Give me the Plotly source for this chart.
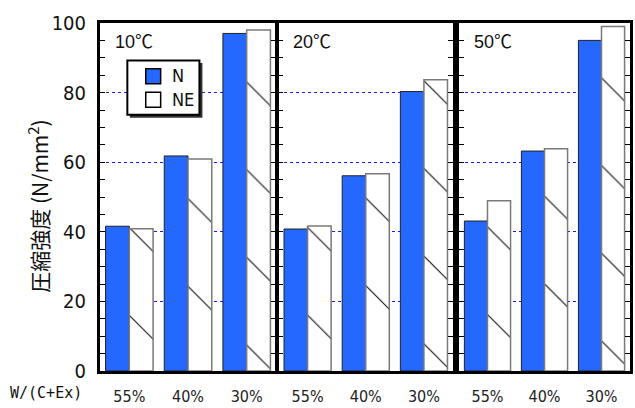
import plotly.graph_objects as go
from plotly.subplots import make_subplots

# Compressive strength by water ratio, curing temperature and mix
temperatures = ["10℃", "20℃", "50℃"]
ratios = ["55%", "40%", "30%"]
strength_N = [
    [41.6, 61.8, 97.0],
    [40.8, 56.1, 80.3],
    [43.1, 63.2, 95.0],
]
strength_NE = [
    [40.9, 60.9, 98.0],
    [41.7, 56.7, 83.7],
    [48.9, 63.9, 99.0],
]
y_ticks = [0, 20, 40, 60, 80, 100]
series_names = ["N", "NE"]

W, H = 635, 408
L, R, T, B = 100, 2, 23, 36
PW, PH = W - L - R, H - T - B

BLUE = "#2468FF"
NUM_FONT = "DejaVu Sans Condensed, Liberation Sans Narrow, sans-serif"
JP_FONT = "Noto Sans CJK JP, sans-serif"


def px(x):
    return (x - L) / PW


def py(y):
    return (H - B - y) / PH


fig = make_subplots(rows=1, cols=3, shared_yaxes=False, horizontal_spacing=0.0)

domains = [[0.0, px(277)], [px(279.5), px(455)], [px(461), 1.0]]

for i in range(3):
    fig.add_trace(
        go.Bar(
            x=ratios, y=strength_N[i], name=series_names[0],
            marker=dict(color=BLUE, line=dict(color="#222222", width=1)),
            showlegend=False,
        ),
        row=1, col=i + 1,
    )
    fig.add_trace(
        go.Bar(
            x=ratios, y=strength_NE[i], name=series_names[1],
            marker=dict(
                color="white",
                line=dict(color="#7a7a7a", width=1.5),
                pattern=dict(shape="\\", fgcolor="#111111", bgcolor="white",
                             fgopacity=1, size=62, solidity=0.018),
            ),
            showlegend=False,
        ),
        row=1, col=i + 1,
    )

    ax = "" if i == 0 else str(i + 1)
    fig.update_layout(**{
        f"xaxis{ax}": dict(
            domain=domains[i], showline=True, mirror=True, linewidth=3,
            linecolor="black", ticks="", showgrid=False,
            tickfont=dict(family=NUM_FONT, size=16, color="#222"),
            ticklabelstandoff=9,
        ),
        f"yaxis{ax}": dict(
            range=[0, 100], tickvals=y_ticks, showline=True, mirror="allticks",
            linewidth=3, linecolor="black", ticks="inside", ticklen=5,
            tickcolor="black", tickwidth=1,
            minor=dict(dtick=5, ticks="inside", ticklen=5, tickcolor="black",
                       tickwidth=1, showgrid=False),
            showgrid=True, gridcolor="#1a1aff", gridwidth=1, griddash="dot",
            showticklabels=(i == 0), zeroline=False,
            tickfont=dict(family=NUM_FONT, size=20, color="#111"),
            ticklabelstandoff=7,
        ),
    })

    fig.add_annotation(
        text=temperatures[i], xref=f"x{ax} domain", yref=f"y{ax} domain",
        x=0, y=1, xanchor="left", yanchor="middle", xshift=13, yshift=-19,
        showarrow=False, font=dict(family="Liberation Sans, " + JP_FONT, size=18, color="#111"),
    )

# legend drawn as a framed box with drop shadow
shapes = [
    dict(type="rect", xref="paper", yref="paper", x0=px(130), x1=px(203),
         y0=py(118), y1=py(63), fillcolor="#333", line=dict(width=0)),
    dict(type="rect", xref="paper", yref="paper", x0=px(127.5), x1=px(200),
         y0=py(115), y1=py(60.5), fillcolor="white", line=dict(color="black", width=2)),
    dict(type="rect", xref="paper", yref="paper", x0=px(146), x1=px(161),
         y0=py(84), y1=py(69), fillcolor=BLUE, line=dict(color="black", width=1.5)),
    dict(type="rect", xref="paper", yref="paper", x0=px(146), x1=px(161),
         y0=py(107.5), y1=py(92.5), fillcolor="white", line=dict(color="black", width=1.5)),
]
for s in shapes:
    fig.add_shape(**s)

for name, yc in zip(series_names, [76, 100]):
    fig.add_annotation(
        text=name, xref="paper", yref="paper", x=px(170), y=py(yc),
        xanchor="left", yanchor="middle", showarrow=False,
        font=dict(family=NUM_FONT, size=18, color="#111"),
    )

fig.add_annotation(
    text="圧縮強度 (N/mm<sup>2</sup>)", xref="paper", yref="paper",
    x=px(38), y=py(207), textangle=-90, xanchor="center", yanchor="middle",
    showarrow=False, font=dict(family=JP_FONT, size=21, color="#111"),
)
fig.add_annotation(
    text="W/(C+Ex)", xref="paper", yref="paper", x=px(7), y=py(394),
    xanchor="left", yanchor="middle", showarrow=False,
    font=dict(family="DejaVu Sans Mono, monospace", size=15, color="#111"),
)

fig.update_layout(
    width=W, height=H, margin=dict(l=L, r=R, t=T, b=B),
    paper_bgcolor="white", plot_bgcolor="white",
    barmode="group", bargap=0.19, bargroupgap=0.0,
    showlegend=False,
)

fig.write_html("out.html")
